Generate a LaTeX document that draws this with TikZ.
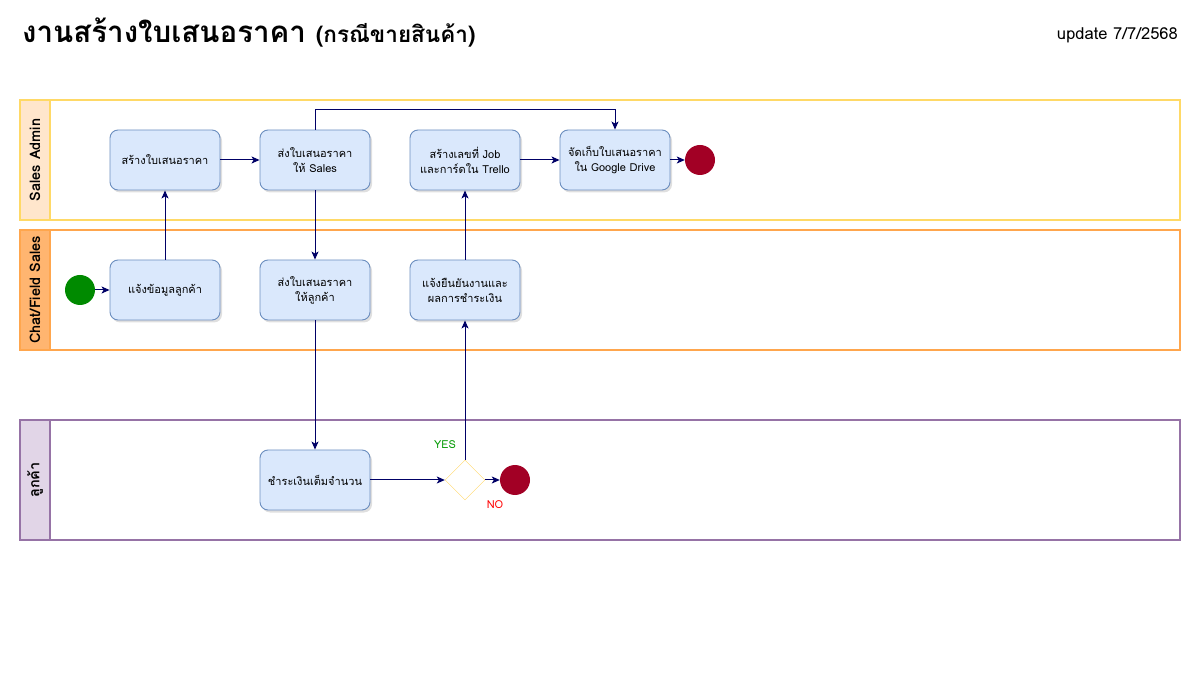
\documentclass[tikz,border=0pt]{standalone}
\usepackage{fontspec}
\setmainfont[Script=Thai]{Loma}
\usetikzlibrary{shapes.geometric,shadows,arrows.meta}
\definecolor{boxfill}{HTML}{DAE8FC}
\definecolor{boxline}{HTML}{6C8EBF}
\definecolor{arrc}{HTML}{000066}
\definecolor{laneAline}{HTML}{FFD966}
\definecolor{laneAfill}{HTML}{FFE6CC}
\definecolor{laneBline}{HTML}{FFA64D}
\definecolor{laneBfill}{HTML}{FFB570}
\definecolor{laneCline}{HTML}{9673A6}
\definecolor{laneCfill}{HTML}{E1D5E7}
\definecolor{startc}{HTML}{008A00}
\definecolor{endc}{HTML}{A20025}
\definecolor{yesc}{HTML}{009900}
\definecolor{noc}{HTML}{FF0000}
\begin{document}
\begin{tikzpicture}[x=1pt,y=-1pt,
  lanebox/.style={draw=#1, line width=1.8pt},
  lanehead/.style={rotate=90, font=\bfseries\fontsize{14.5}{16}\selectfont},
  box/.style={draw=boxline, line width=0.9pt, fill=boxfill, rounded corners=8pt, minimum width=110pt, minimum height=60pt,
    align=center, inner sep=2pt, font=\fontsize{11}{15}\selectfont,
    drop shadow={opacity=0.25, shadow xshift=2pt, shadow yshift=-2.5pt}},
  startev/.style={circle, fill=startc, minimum size=30pt, inner sep=0pt},
  endev/.style={circle, fill=endc, minimum size=30pt, inner sep=0pt},
  decision/.style={diamond, draw=laneAline, fill=white, minimum width=40pt, minimum height=40pt, inner sep=0pt, aspect=1},
  arr/.style={draw=arrc, line width=1pt, -{Stealth[length=8pt,width=7pt,inset=2pt]}},
  lbl/.style={font=\fontsize{11}{12}\selectfont}
]
\useasboundingbox (0,0) rectangle (1200,700);

% title
\node[anchor=west, inner sep=0pt, font=\bfseries\fontsize{29.5}{32}\selectfont] (title) at (22,33)
  {งานสร้างใบเสนอราคา {\fontsize{22.5}{24}\selectfont (กรณีขายสินค้า)}};
\node[anchor=east, inner sep=0pt, font=\fontsize{16.5}{18}\selectfont] (upd) at (1178,35) {update 7/7/2568};

% lanes
\draw[lanebox=laneAline] (20,100) rectangle (1180,220);
\filldraw[lanebox=laneAline, fill=laneAfill] (20,100) rectangle (50,220);
\node[lanehead] (hA) at (35,160) {Sales Admin};

\draw[lanebox=laneBline] (20,230) rectangle (1180,350);
\filldraw[lanebox=laneBline, fill=laneBfill] (20,230) rectangle (50,350);
\node[lanehead] (hB) at (35,290) {Chat/Field Sales};

\draw[lanebox=laneCline] (20,420) rectangle (1180,540);
\filldraw[lanebox=laneCline, fill=laneCfill] (20,420) rectangle (50,540);
\node[lanehead] (hC) at (35,480) {ลูกค้า};

% nodes
\node[box] (a1) at (165,160) {สร้างใบเสนอราคา};
\node[box] (a2) at (315,160) {ส่งใบเสนอราคา\\ให้ Sales};
\node[box] (a3) at (465,160) {สร้างเลขที่ Job\\และการ์ดใน Trello};
\node[box] (a4) at (615,160) {จัดเก็บใบเสนอราคา\\ใน Google Drive};
\node[endev] (e1) at (700,160) {};

\node[startev] (s) at (80,290) {};
\node[box] (b1) at (165,290) {แจ้งข้อมูลลูกค้า};
\node[box] (b2) at (315,290) {ส่งใบเสนอราคา\\ให้ลูกค้า};
\node[box] (b3) at (465,290) {แจ้งยืนยันงานและ\\ผลการชำระเงิน};

\node[box] (c1) at (315,480) {ชำระเงินเต็มจำนวน};
\node[decision] (d) at (465,480) {};
\node[endev] (e2) at (515,480) {};

\node[lbl, text=yesc] (yes) at (445,445) {YES};
\node[lbl, text=noc] (no) at (495,505) {NO};

% connectors
\draw[arr] (s) -- (b1);
\draw[arr] (b1) -- (a1);
\draw[arr] (a1) -- (a2);
\draw[arr] (a2) -- (b2);
\draw[arr] (a2.north) -- ++(0,-20) -| (a4.north);
\draw[arr] (b2) -- (c1);
\draw[arr] (c1) -- (d);
\draw[arr] (d) -- (e2);
\draw[arr] (d.north) -- (b3.south);
\draw[arr] (b3) -- (a3);
\draw[arr] (a3) -- (a4);
\draw[arr] (a4) -- (e1);
\end{tikzpicture}
\end{document}
